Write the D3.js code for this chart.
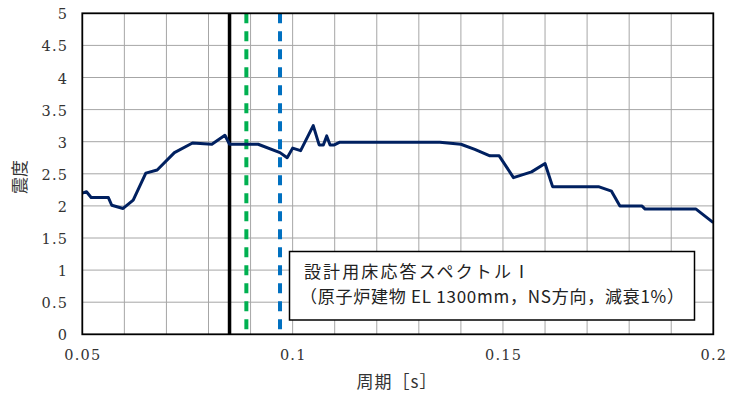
<!DOCTYPE html>
<html><head><meta charset="utf-8">
<script src="https://cdn.jsdelivr.net/npm/d3@7"></script>
<style>body{margin:0;background:#fff}svg{display:block}</style>
</head><body><svg id="c" width="731" height="401"></svg>
<script>
const periods = [0.05,0.051,0.0521,0.0562,0.0570,0.0597,0.0621,0.0651,0.0678,0.0719,0.0762,0.0808,0.0839,0.0850,0.0918,0.0970,0.0987,0.1000,0.1019,0.1049,0.1063,0.1073,0.1081,0.1089,0.1099,0.1111,0.135,0.140,0.1433,0.1469,0.1491,0.1525,0.1568,0.1600,0.1618,0.1727,0.1758,0.1778,0.1830,0.1838,0.1959,0.2];
const seismic = [2.2,2.22,2.13,2.13,2.01,1.96,2.09,2.51,2.56,2.83,2.98,2.96,3.10,2.96,2.96,2.83,2.75,2.90,2.86,3.25,2.95,2.95,3.09,2.95,2.95,2.99,2.99,2.96,2.88,2.78,2.78,2.44,2.53,2.66,2.30,2.30,2.23,2.00,2.00,1.95,1.95,1.74];
const refPeriods = [0.085, 0.089, 0.097];
const refColors = ["#000000", "#00B050", "#0070C0"];
const refDashed = [false, true, true];
const xTickLabels = [0.05, 0.1, 0.15, 0.2];
const xGrid = [0.06,0.07,0.08,0.09,0.1,0.11,0.12,0.13,0.14,0.15,0.16,0.17,0.18,0.19];
const yTicks = [0,0.5,1,1.5,2,2.5,3,3.5,4,4.5,5];
const legendLines = ["設計用床応答スペクトルⅠ", "（原子炉建物 EL 1300mm，NS方向，減衰1%）"];
const xTitle = "周期［s］";
const yTitle = "震度";

const L=82.3, R=713.3, T=13.3, B=334.3;
const svg = d3.select("#c");
const x = d3.scaleLinear().domain([0.05,0.2]).range([L,R]);
const y = d3.scaleLinear().domain([0,5]).range([B,T]);
const serif = "DejaVu Serif";
const jp = "Noto Sans CJK JP";
const LS = 1.2;

// grid
svg.append("g").selectAll("line").data(xGrid).join("line")
  .attr("x1",d=>x(d)).attr("x2",d=>x(d)).attr("y1",T).attr("y2",B)
  .attr("stroke","#a6a6a6").attr("stroke-width",1);
svg.append("g").selectAll("line").data(yTicks.slice(1,-1)).join("line")
  .attr("x1",L).attr("x2",R).attr("y1",d=>y(d)).attr("y2",d=>y(d))
  .attr("stroke","#a6a6a6").attr("stroke-width",1);

// y tick labels
svg.append("g").selectAll("text").data(yTicks).join("text")
  .attr("x",67+LS).attr("y",d=>y(d)+1).attr("dy","0.35em").attr("text-anchor","end")
  .style("font-family",serif).style("font-size","14.5px").style("font-weight",300).attr("letter-spacing",LS).attr("fill","#333")
  .text(d=>d);
// x tick labels
svg.append("g").selectAll("text").data(xTickLabels).join("text")
  .attr("x",d=>x(d)+LS/2).attr("y",355).attr("dy","0.35em").attr("text-anchor","middle")
  .style("font-family",serif).style("font-size","14.5px").attr("letter-spacing",LS).attr("fill","#333")
  .text(d=>d);

// reference lines
svg.append("g").selectAll("line").data(refPeriods).join("line")
  .attr("x1",d=>x(d)).attr("x2",d=>x(d)).attr("y1",T).attr("y2",B)
  .attr("stroke",(d,i)=>refColors[i]).attr("stroke-width",(d,i)=>refDashed[i]?4:3.5)
  .attr("stroke-dasharray",(d,i)=>refDashed[i]?"10,8":null);

// curve
const line = d3.line().x((d,i)=>x(periods[i])).y(d=>y(d));
svg.append("path").datum(seismic).attr("d",line)
  .attr("fill","none").attr("stroke","#002060").attr("stroke-width",3).attr("stroke-linejoin","round");

// frame
svg.append("rect").attr("x",L).attr("y",T).attr("width",R-L).attr("height",B-T)
  .attr("fill","none").attr("stroke","#000").attr("stroke-width",1.8);

// legend box
svg.append("rect").attr("x",289.5).attr("y",251.5).attr("width",405).attr("height",68.5)
  .attr("fill","#fff").attr("stroke","#000").attr("stroke-width",1.5);
const legendX = [304, 300], legendW = [226, 384];
svg.append("g").selectAll("text").data(legendLines).join("text")
  .attr("x",(d,i)=>legendX[i]).attr("y",(d,i)=>272+i*25).attr("dy","0.35em")
  .attr("textLength",(d,i)=>legendW[i]).attr("lengthAdjust","spacing")
  .style("font-family",jp).style("font-size","17px").attr("fill","#222")
  .text(d=>d);

// axis titles
svg.append("text").attr("x",397).attr("y",382).attr("dy","0.35em").attr("text-anchor","middle")
  .style("font-family",jp).style("font-size","17px").attr("letter-spacing",1).attr("fill","#333").text(xTitle);
svg.append("text").attr("transform","translate(20,177) rotate(-90)").attr("dy","0.35em")
  .attr("text-anchor","middle").style("font-family",jp).style("font-size","17px").attr("fill","#333").text(yTitle);
</script></body></html>
